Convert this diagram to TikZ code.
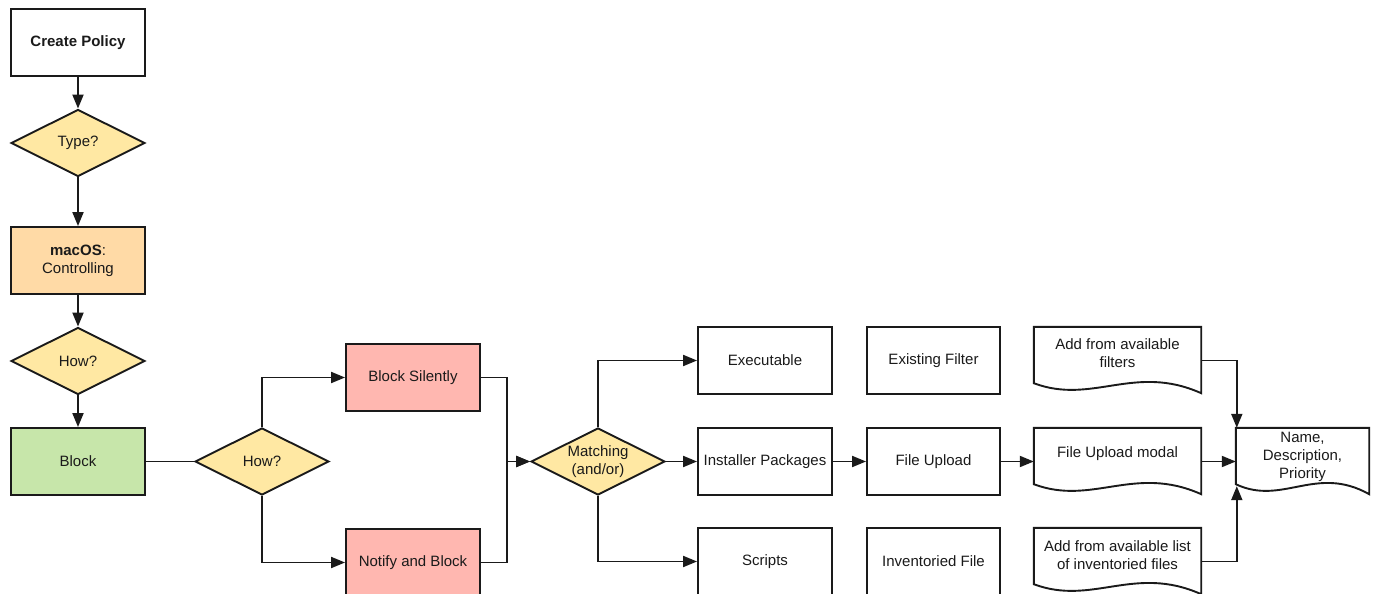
\documentclass[tikz,border=0pt]{standalone}
\usepackage{fontspec}
\setmainfont{Liberation Sans}
\usetikzlibrary{shapes.geometric,arrows.meta,calc}
\definecolor{diaY}{HTML}{FFE8A3}
\definecolor{macO}{HTML}{FFDAA6}
\definecolor{blkG}{HTML}{C7E6AA}
\definecolor{redB}{HTML}{FFB7B0}
\definecolor{ink}{HTML}{1A1A1A}
\begin{document}
\begin{tikzpicture}[x=1pt,y=-1pt,
  font=\fontsize{15}{18}\selectfont,
  line/.style={draw=ink, line width=1.9pt},
  arr/.style={line, -{Triangle[length=14pt,width=11pt]}},
  box/.style={rectangle, draw=ink, line width=1.9pt, minimum width=134pt, minimum height=67pt, inner sep=2pt, align=center, text=ink},
  dia/.style={diamond, draw=ink, fill=diaY, line width=1.9pt, shape aspect=2, minimum width=134pt, minimum height=67pt, inner sep=0pt, align=center, text=ink},
  docn/.style={rectangle, minimum width=167pt, minimum height=67pt, inner sep=0pt},
  doct/.style={align=center, text=ink, inner sep=0pt}]
\clip (0,0) rectangle (1376,594);
\fill[white] (0,0) rectangle (1376,594);

\node[box] (cp) at (78,42.5) {\bfseries Create Policy};
\node[dia] (ty) at (78,143) {Type?};
\node[box,fill=macO] (mac) at (78,260.5) {\textbf{macOS}:\\Controlling};
\node[dia] (h1) at (78,361) {How?};
\node[box,fill=blkG] (blk) at (78,461.5) {Block};
\node[dia] (h2) at (262,461.5) {How?};
\node[box,fill=redB] (bs) at (413,377.5) {Block Silently};
\node[box,fill=redB] (nb) at (413,562.5) {Notify and Block};
\node[dia] (mt) at (598,461.5) {Matching\\(and/or)};
\node[box] (ex) at (765,360.5) {Executable};
\node[box] (ip) at (765,461.5) {Installer Packages};
\node[box] (sc) at (765,561.5) {Scripts};
\node[box,minimum width=133pt] (ef) at (933.5,360.5) {Existing Filter};
\node[box,minimum width=133pt] (fu) at (933.5,461.5) {File Upload};
\node[box,minimum width=133pt] (if) at (933.5,561.5) {Inventoried File};

\node[docn] (d1) at (1117.5,360.5) {};
\node[docn] (d2) at (1117.5,461.5) {};
\node[docn] (d3) at (1117.5,561.5) {};
\node[docn,minimum width=133pt] (nm) at (1302.5,461.5) {};
\foreach \n in {d1,d2,d3,nm}{
  \filldraw[line, fill=white] (\n.north west) -- (\n.north east) -- ($(\n.south east)+(0,-1)$)
    .. controls ($(\n.south west)!0.6!(\n.south east)+(0,-31)$) and ($(\n.south west)!0.35!(\n.south east)+(0,11)$)
    .. ($(\n.south west)+(0,-11)$) -- cycle;
}
\node[doct] (t1) at ($(d1.north)+(0,26.5)$) {Add from available\\filters};
\node[doct] (t2) at ($(d2.north)+(0,26)$) {File Upload modal};
\node[doct] (t3) at ($(d3.north)+(0,27)$) {Add from available list\\of inventoried files};
\node[doct] (t4) at ($(nm.north)+(0,29)$) {Name,\\Description,\\Priority};

\coordinate (nmt) at ($(nm.north west)+(1,0)$);
\coordinate (nmb) at ($(nm.south west)+(1,-9)$);

\draw[arr] (cp.south) -- (ty.north);
\draw[arr] (ty.south) -- (mac.north);
\draw[arr] (mac.south) -- (h1.north);
\draw[arr] (h1.south) -- (blk.north);
\draw[line] (blk.east) -- (h2.west);
\draw[arr] (h2.north) |- (bs.west);
\draw[arr] (h2.south) |- (nb.west);
\draw[arr] (bs.east) -- ++(26,0) |- (mt.west);
\draw[arr] (nb.east) -- ++(26,0) |- (mt.west);
\draw[arr] (mt.north) |- (ex.west);
\draw[arr] (mt.east) -- (ip.west);
\draw[arr] (mt.south) |- (sc.west);
\draw[arr] (ip.east) -- (fu.west);
\draw[arr] (fu.east) -- (d2.west);
\draw[arr] (d1.east) -| (nmt);
\draw[arr] (d2.east) -- (nm.west);
\draw[arr] (d3.east) -| (nmb);
\end{tikzpicture}
\end{document}
